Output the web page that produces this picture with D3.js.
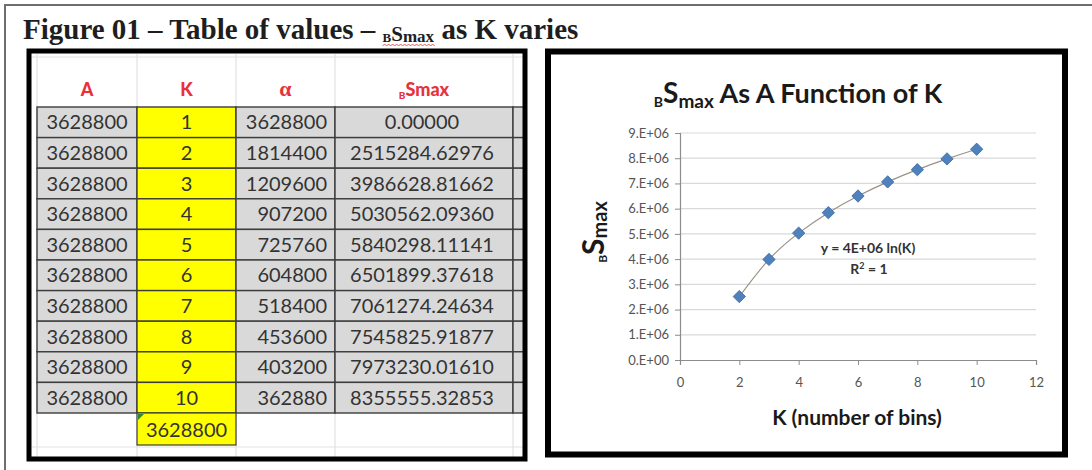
<!DOCTYPE html>
<html>
<head>
<meta charset="utf-8">
<script src="https://cdn.jsdelivr.net/npm/d3@7"></script>
<style>
  body { margin: 0; background: #fff; }
  svg { display: block; }
</style>
</head>
<body>
<div id="chart-area"></div>
<script>
// table values
const kValues = [1, 2, 3, 4, 5, 6, 7, 8, 9, 10];
const aValues = [3628800, 3628800, 3628800, 3628800, 3628800, 3628800, 3628800, 3628800, 3628800, 3628800];
const alphaValues = [3628800, 1814400, 1209600, 907200, 725760, 604800, 518400, 453600, 403200, 362880];
const bsmaxValues = [0, 2515284.62976, 3986628.81662, 5030562.09360, 5840298.11141,
    6501899.37618, 7061274.24634, 7545825.91877, 7973230.01610, 8355555.32853];
const extraValue = 3628800;

// chart axes
const xTicks = [0, 2, 4, 6, 8, 10, 12];
const yTicks = [0, 1e6, 2e6, 3e6, 4e6, 5e6, 6e6, 7e6, 8e6, 9e6];
const yTickLabels = ['0.E+00', '1.E+06', '2.E+06', '3.E+06', '4.E+06', '5.E+06', '6.E+06', '7.E+06', '8.E+06', '9.E+06'];

const W = 1092, H = 470;
const svg = d3.select('#chart-area').append('svg')
    .attr('width', W)
    .attr('height', H);

svg.append('rect').attr('width', W).attr('height', H).attr('fill', '#fff');

// outer page frame
svg.append('rect')
    .attr('x', 5).attr('y', 5)
    .attr('width', 1200).attr('height', 600)
    .attr('fill', 'none')
    .attr('stroke', '#6e6e6e')
    .attr('stroke-width', 2);

// figure title
const title = svg.append('text')
    .attr('x', 23).attr('y', 39)
    .attr('font-family', '"Liberation Serif", "DejaVu Serif", serif')
    .attr('font-weight', 'bold')
    .attr('font-size', '29px')
    .attr('fill', '#1e1e1e');
title.append('tspan').text('Figure 01 \u2013 Table of values \u2013 ');
const tB = title.append('tspan').attr('font-size', '13px').attr('dy', 3).text('B');
title.append('tspan').attr('font-size', '21px').attr('dy', -1).text('S');
const tMax = title.append('tspan').attr('font-size', '17px').attr('dy', 1).text('max');
title.append('tspan').attr('font-size', '29px').attr('dy', -3).text(' as K varies');

// red spell-check squiggle under BSmax
const sq0 = tB.node().getBBox().x;
const sq1 = tMax.node().getBBox().x + tMax.node().getBBox().width;
const squig = d3.range(sq0, sq1, 2).map((xx, i) => [xx, i % 2 ? 44 : 46]);
svg.append('path')
    .attr('d', d3.line()(squig))
    .attr('fill', 'none')
    .attr('stroke', '#e03030')
    .attr('stroke-width', 0.8);

// ---------------- table ----------------
const columns = ['A', 'K', 'alpha', 'bsmax', 'extra'];
const colX = d3.scaleOrdinal().domain(columns).range([37, 137, 236, 335, 513]);
const colW = d3.scaleOrdinal().domain(columns).range([100, 99, 99, 178, 11]);
const rowY = d3.scaleBand().domain(kValues).range([107, 413]);

const tableFont = 'Lato, "Open Sans", sans-serif';
const table = svg.append('g');

// faint spreadsheet gridlines
columns.forEach(c => {
    const xx = colX(c);
    table.append('line')
        .attr('x1', xx).attr('x2', xx)
        .attr('y1', 54).attr('y2', 457)
        .attr('stroke', '#dcdcdc').attr('stroke-width', 1);
});
[57, 447].forEach(yy => {
    table.append('line')
        .attr('x1', 32).attr('x2', 523)
        .attr('y1', yy).attr('y2', yy)
        .attr('stroke', '#e2e2e2').attr('stroke-width', 1);
});

const rows = kValues.map((k, i) => ({
    k: k, A: aValues[i], alpha: alphaValues[i], bsmax: bsmaxValues[i]
}));

const cellFill = c => c === 'K' ? '#ffff00' : '#d9d9d9';

rows.forEach(r => {
    columns.forEach(c => {
        table.append('rect')
            .attr('x', colX(c)).attr('y', rowY(r.k))
            .attr('width', colW(c)).attr('height', rowY.bandwidth())
            .attr('fill', cellFill(c))
            .attr('stroke', '#3c3c3c')
            .attr('stroke-width', 1.4);
    });
});

const cellText = (c, r) => {
    if (c === 'A') return r.A;
    if (c === 'K') return r.k;
    if (c === 'alpha') return r.alpha;
    if (c === 'bsmax') return r.bsmax.toFixed(5);
    return '';
};

rows.forEach(r => {
    ['A', 'K', 'alpha', 'bsmax'].forEach(c => {
        const right = c === 'alpha';
        table.append('text')
            .attr('x', right ? colX(c) + colW(c) - 8 : colX(c) + colW(c) / 2 + (c === 'bsmax' ? -2 : 0))
            .attr('y', rowY(r.k) + rowY.bandwidth() / 2 + 7)
            .attr('text-anchor', right ? 'end' : 'middle')
            .attr('font-family', tableFont)
            .attr('font-size', '20px')
            .attr('fill', '#333')
            .text(cellText(c, r));
    });
});

// extra yellow cell under K
const extraY = rowY(10) + rowY.bandwidth();
table.append('rect')
    .attr('x', colX('K')).attr('y', extraY)
    .attr('width', colW('K')).attr('height', 32)
    .attr('fill', '#ffff00')
    .attr('stroke', '#3c3c3c')
    .attr('stroke-width', 1.2);
table.append('path')
    .attr('d', `M${colX('K') + 1},${extraY + 1}l6,0l-6,6z`)
    .attr('fill', '#2f8a2f');
table.append('text')
    .attr('x', colX('K') + colW('K') / 2)
    .attr('y', extraY + 24)
    .attr('text-anchor', 'middle')
    .attr('font-family', tableFont)
    .attr('font-size', '20px')
    .attr('fill', '#333')
    .text(extraValue);

// header labels
const headerY = 96;
const hdr = (c, build) => {
    const t = table.append('text')
        .attr('x', colX(c) + colW(c) / 2)
        .attr('y', headerY)
        .attr('text-anchor', 'middle')
        .attr('font-family', tableFont)
        .attr('font-weight', 900)
        .attr('font-size', '18px')
        .attr('fill', '#e8313c');
    build(t);
};
hdr('A', t => t.text('A'));
hdr('K', t => t.text('K'));
hdr('alpha', t => t.attr('font-family', '"Liberation Serif", serif').attr('font-size', '22px').text('\u03b1'));
hdr('bsmax', t => {
    t.append('tspan').attr('font-size', '10px').attr('dy', 3).text('B');
    t.append('tspan').attr('font-size', '18px').attr('dy', -3).text('Smax');
});

// thick black box around table
svg.append('rect')
    .attr('x', 29).attr('y', 51)
    .attr('width', 496).attr('height', 408)
    .attr('fill', 'none')
    .attr('stroke', '#000')
    .attr('stroke-width', 5);

// ---------------- chart ----------------
svg.append('rect')
    .attr('x', 548).attr('y', 51.5)
    .attr('width', 517).attr('height', 403)
    .attr('fill', 'none')
    .attr('stroke', '#000')
    .attr('stroke-width', 6);

const chartFont = 'Lato, "Open Sans", sans-serif';
const x = d3.scaleLinear().domain([0, 12]).range([680, 1036]);
const y = d3.scaleLinear().domain([0, 9e6]).range([360, 133]);

const chart = svg.append('g');

// gridlines
chart.append('g')
    .selectAll('line')
    .data(yTicks.slice(1))
    .join('line')
    .attr('x1', x(0)).attr('x2', x(12))
    .attr('y1', d => y(d)).attr('y2', d => y(d))
    .attr('stroke', '#d9d9d9')
    .attr('stroke-width', 1.2);

const yAxis = d3.axisLeft(y)
    .tickValues(yTicks)
    .tickFormat((d, i) => yTickLabels[i])
    .tickSize(5)
    .tickPadding(6);
const yAxisG = chart.append('g')
    .attr('transform', `translate(${x(0)},0)`)
    .call(yAxis);

const xAxis = d3.axisBottom(x)
    .tickValues(xTicks)
    .tickSize(5)
    .tickPadding(13);
const xAxisG = chart.append('g')
    .attr('transform', `translate(0,${y(0)})`)
    .call(xAxis);

[yAxisG, xAxisG].forEach(g => {
    g.select('.domain').attr('stroke', '#8c8c8c').attr('stroke-width', 1.2);
    g.selectAll('.tick line').attr('stroke', '#8c8c8c');
    g.selectAll('.tick text')
        .attr('font-family', chartFont)
        .attr('font-size', '13px')
        .attr('fill', '#555');
});

// trendline through points
const pts = rows.filter(r => r.k >= 2);
chart.append('path')
    .datum(pts)
    .attr('d', d3.line().x(d => x(d.k)).y(d => y(d.bsmax)).curve(d3.curveNatural))
    .attr('fill', 'none')
    .attr('stroke', '#9b9184')
    .attr('stroke-width', 1.2);

chart.append('g')
    .selectAll('path')
    .data(pts)
    .join('path')
    .attr('d', d3.symbol(d3.symbolSquare, 76)())
    .attr('transform', d => `translate(${x(d.k)},${y(d.bsmax)}) rotate(45)`)
    .attr('fill', '#4f81bd')
    .attr('stroke', '#3b6aa3')
    .attr('stroke-width', 0.8);

// trend equation
chart.append('text')
    .attr('x', 868).attr('y', 253)
    .attr('text-anchor', 'middle')
    .attr('font-family', chartFont)
    .attr('font-weight', 'bold')
    .attr('font-size', '14px')
    .attr('fill', '#333')
    .text('y = 4E+06 ln(K)');
const r2 = chart.append('text')
    .attr('x', 869).attr('y', 274)
    .attr('text-anchor', 'middle')
    .attr('font-family', chartFont)
    .attr('font-weight', 'bold')
    .attr('font-size', '14px')
    .attr('fill', '#333');
r2.append('tspan').text('R');
r2.append('tspan').attr('font-size', '9px').attr('dy', -5).text('2');
r2.append('tspan').attr('dy', 5).text(' = 1');

// chart title
const ct = chart.append('text')
    .attr('x', 798).attr('y', 103)
    .attr('text-anchor', 'middle')
    .attr('font-family', chartFont)
    .attr('font-weight', 'bold')
    .attr('font-size', '27px')
    .attr('fill', '#1a1a1a');
ct.append('tspan').attr('font-size', '14px').attr('dy', 4).text('B');
ct.append('tspan').attr('font-size', '28px').attr('dy', -4).text('S');
ct.append('tspan').attr('font-size', '19px').attr('dy', 5).text('max');
ct.append('tspan').attr('dy', -5).text(' As A Function of K');

// axis titles
chart.append('text')
    .attr('x', 857).attr('y', 425)
    .attr('text-anchor', 'middle')
    .attr('font-family', chartFont)
    .attr('font-weight', 'bold')
    .attr('font-size', '21px')
    .attr('fill', '#1a1a1a')
    .text('K (number of bins)');

const yt = chart.append('text')
    .attr('transform', 'translate(607,232) rotate(-90)')
    .attr('text-anchor', 'middle')
    .attr('font-family', chartFont)
    .attr('font-weight', 'bold')
    .attr('font-size', '20px')
    .attr('fill', '#1a1a1a');
yt.append('tspan').attr('font-size', '12px').text('B');
yt.append('tspan').attr('font-size', '30px').attr('dy', -3).text('S');
yt.append('tspan').attr('font-size', '20px').attr('dy', 3).text('max');
</script>
</body>
</html>
